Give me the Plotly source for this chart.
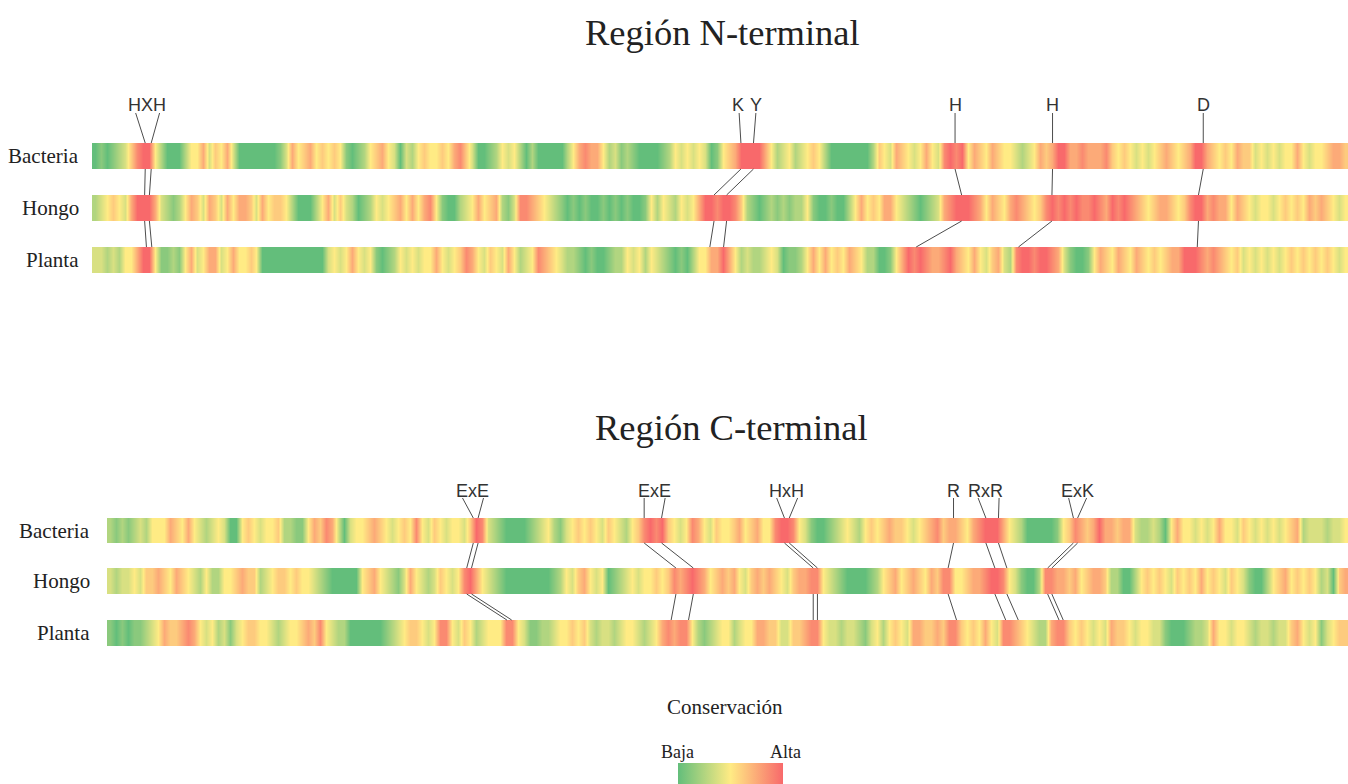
import plotly.graph_objects as go


def digits(s):
    return [int(c) for c in s if c.isdigit()]


SPECIES = ["Bacteria", "Hongo", "Planta"]

# Conservation level per aligned position (1 = baja ... 9 = alta)
N_BACTERIA = ("12123 46899 53111 35574 6574 11111112 47567 56565 "
              "21235 67541 43565 56578 64112 35453 13111 11357 87 "
              "75342 32111 12354 54541 25679 99975 34534 56531 11 "
              "11113 65476 54575 48989 57657 65543 45767 99778 77 "
              "78656 54545 67656 79976 56576 64545 45575 45567 76")
N_HONGO = ("34565 47999 74323 57647 64757 76475 66531 11357 46 "
           "43123 54567 57578 52113 45756 73248 87654 32121 21 "
           "12121 21125 35435 45799 89986 32123 23233 52112 11 "
           "35756 57754 32123 47899 98757 65787 65689 89898 89 "
           "87989 87656 77656 89978 77576 54554 56565 76765 45")
N_PLANTA = ("44343 55799 52232 57457 74575 56511 11111 11114 54 "
            "57545 21235 45455 75456 87546 54753 45876 54332 12 "
            "11233 54535 43212 13557 79753 43345 41223 57575 65 "
            "76533 11257 98987 78976 57546 74389 98998 74211 25 "
            "76576 57656 56779 99878 76564 54545 45656 56565 45")

C_BACTERIA = ("32323 43555 76575 43454 11565 45563 32257 68741 45 "
              "56765 45658 54654 55469 84321 11123 45324 56565 4 "
              "65435 68989 65458 75465 56756 75589 98542 11234 54 "
              "35656 76654 56786 77657 89997 54311 11125 68767 97 "
              "76774 33431 57554 54575 54654 54545 67344 43445")
C_HONGO = ("43445 46676 57654 35335 56766 34566 56554 32111 11 "
           "56754 32475 43465 45897 54321 11111 11235 46754 5 "
           "12345 45565 68789 87567 67546 76765 46778 85432 11 "
           "11235 67567 65768 85567 78998 54211 38877 67567 76 "
           "33113 56565 46565 75654 65421 13567 56565 34167")
C_PLANTA = ("21212 23457 66787 54534 24566 55434 55676 85433 11 "
            "11112 34566 54588 54653 45558 85422 33455 65643 4 "
            "43455 43457 87885 32345 53455 77664 46678 85443 44 "
            "32453 56547 76676 88656 57548 87654 33788 65654 54 "
            "76654 55442 11123 34755 45543 44344 67545 24566")

N_VALUES = [digits(N_BACTERIA), digits(N_HONGO), digits(N_PLANTA)]
C_VALUES = [digits(C_BACTERIA), digits(C_HONGO), digits(C_PLANTA)]

# Motifs: label, label position, residues as (label letter, Bacteria, Hongo, Planta)
N_MOTIFS = [
    ("HXH", 8.7, [(6.8, 8.4, 8.3, 8.6), (10.8, 9.4, 9.1, 9.5)]),
    ("K", 107.5, [(107.7, 108.0, 103.5, 102.8)]),
    ("Y", 110.5, [(110.5, 110.1, 105.6, 105.1)]),
    ("H", 143.8, [(143.8, 143.8, 144.9, 137.3)]),
    ("H", 160.1, [(160.1, 160.1, 160.0, 154.4)]),
    ("D", 185.3, [(185.3, 185.3, 184.5, 184.3)]),
]
C_MOTIFS = [
    ("ExE", 60.4, [(58.8, 60.6, 59.5, 66.2), (62.3, 61.4, 60.3, 67.0)]),
    ("ExE", 90.9, [(89.1, 89.1, 94.4, 93.6), (92.6, 92.0, 97.3, 96.5)]),
    ("HxH", 112.8, [(111.2, 112.5, 117.3, 117.3), (114.7, 113.3, 118.0, 118.0)]),
    ("R", 140.7, [(140.7, 140.7, 139.8, 141.2)]),
    ("RxR", 146.1, [(144.8, 146.1, 147.6, 149.4), (148.3, 148.2, 149.6, 151.5)]),
    ("ExK", 161.3, [(159.9, 160.7, 156.4, 158.3), (162.9, 161.4, 157.1, 159.0)]),
]

W, H = 1348, 784
SERIF = "Liberation Serif, Times New Roman, serif"
SANS = "Liberation Sans, Arial, sans-serif"
LINE = "#4d4d4d"

PANELS = [
    dict(title="Región N-terminal", values=N_VALUES, motifs=N_MOTIFS, xref="x",
         left=92, title_x=723, title_y=32, label_y=105, line_top=113,
         rows=[(143, 169), (195, 221), (247, 273)], name_right=81),
    dict(title="Región C-terminal", values=C_VALUES, motifs=C_MOTIFS, xref="x2",
         left=107, title_x=731, title_y=427, label_y=491, line_top=498,
         rows=[(518, 543), (568, 594), (620, 646)], name_right=92),
]

fig = go.Figure()
shapes = []
annotations = []

for p in PANELS:
    n = len(p["values"][0])
    for sp, vals, (top, bot) in zip(SPECIES, p["values"], p["rows"]):
        fig.add_trace(go.Heatmap(
            z=[vals, vals], x=list(range(n)),
            y=[top + (bot - top) / 4, bot - (bot - top) / 4],
            coloraxis="coloraxis", xaxis=p["xref"], yaxis="y",
            hoverinfo="skip", zsmooth="best", name=sp))
        annotations.append(dict(
            text=sp, x=p["name_right"] / W, xref="paper", xanchor="right",
            y=(top + bot) / 2, yref="y", yanchor="middle", showarrow=False,
            font=dict(family=SERIF, size=21, color="#222")))
    annotations.append(dict(
        text=p["title"], x=p["title_x"] / W, xref="paper", xanchor="center",
        y=p["title_y"], yref="y", yanchor="middle", showarrow=False,
        font=dict(family=SERIF, size=36.5, color="#222")))
    (b0, b1), (h0, h1), (p0, p1) = p["rows"]
    for label, lx, residues in p["motifs"]:
        annotations.append(dict(
            text=label, x=lx, xref=p["xref"], xanchor="center",
            y=p["label_y"], yref="y", yanchor="middle", showarrow=False,
            font=dict(family=SANS, size=18, color="#333")))
        for t, bx, hx, px in residues:
            for xa, ya, xb, yb in [(t, p["line_top"], bx, b0),
                                   (bx, b1, hx, h0),
                                   (hx, h1, px, p0)]:
                shapes.append(dict(type="line", xref=p["xref"], yref="y",
                                   x0=xa, y0=ya, x1=xb, y1=yb,
                                   line=dict(color=LINE, width=1)))

annotations += [
    dict(text="Conservación", x=725 / W, xref="paper", xanchor="center",
         y=707, yref="y", yanchor="middle", showarrow=False,
         font=dict(family=SERIF, size=21, color="#222")),
    dict(text="Baja", x=677.5 / W, xref="paper", xanchor="center",
         y=752, yref="y", yanchor="middle", showarrow=False,
         font=dict(family=SERIF, size=18, color="#222")),
    dict(text="Alta", x=785.5 / W, xref="paper", xanchor="center",
         y=752, yref="y", yanchor="middle", showarrow=False,
         font=dict(family=SERIF, size=18, color="#222")),
]

n_n = len(N_VALUES[0])
n_c = len(C_VALUES[0])

fig.update_layout(
    width=W, height=H, margin=dict(l=0, r=0, t=0, b=0, autoexpand=False),
    paper_bgcolor="white", plot_bgcolor="rgba(0,0,0,0)", showlegend=False,
    xaxis=dict(domain=[92 / W, 1], range=[-0.5, n_n - 0.5], visible=False,
               fixedrange=True),
    xaxis2=dict(domain=[107 / W, 1], range=[-0.5, n_c - 0.5], visible=False,
                anchor="y", fixedrange=True),
    yaxis=dict(domain=[0, 1], range=[H, 0], visible=False, fixedrange=True),
    coloraxis=dict(
        cmin=1, cmax=9,
        colorscale=[[0, "#63BE7B"], [0.5, "#FFEB84"], [1, "#F8696B"]],
        colorbar=dict(orientation="h", x=730.5 / W, xanchor="center",
                      y=0, yanchor="bottom", len=105, lenmode="pixels",
                      thickness=21, thicknessmode="pixels", xpad=0, ypad=0,
                      outlinewidth=0, showticklabels=False, ticks="")),
    shapes=shapes, annotations=annotations,
)

fig.write_html(
    "out.html",
    config={"responsive": False, "displayModeBar": False},
    post_script="document.body.style.margin='0';"
                "document.body.style.overflow='hidden';",
)
